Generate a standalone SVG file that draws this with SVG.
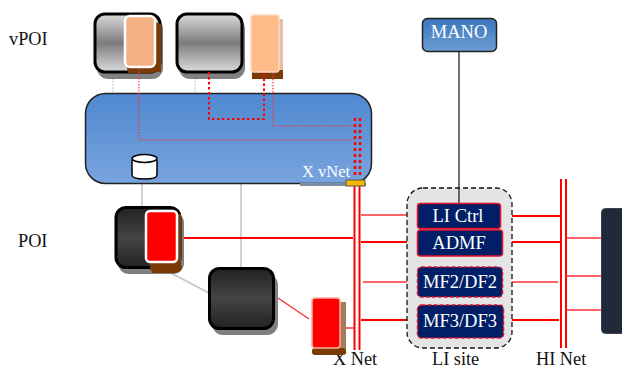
<svg xmlns="http://www.w3.org/2000/svg" width="622" height="369" viewBox="0 0 622 369">
<style>
text{font-family:"Liberation Serif","Times New Roman",serif;font-size:18.300px;fill:#111}
.w{fill:#fff;font-size:18.500px;text-anchor:middle}
.vm{stroke:#000;stroke-width:3}
.sh{fill:#808080}
.brown{fill:#7a3a05}
.grey{stroke:#c4c4c4;fill:none}
.dot{stroke:#f33;fill:none;stroke-width:1.200;stroke-dasharray:1.500 1.500}
.dot2{stroke:#f00;fill:none;stroke-width:2;stroke-dasharray:2.500 2.500}
.r{stroke:#f00;fill:none;stroke-width:2}
.rt{stroke:#f33;fill:none;stroke-width:1.500}
.li{fill:#001f66;stroke:#e0102a;stroke-width:1.500}
.lid{fill:#001f66;stroke:#e0102a;stroke-width:1.500;stroke-dasharray:4 2}
</style>
<defs>
<linearGradient id="gv" x1="0" y1="0" x2="0" y2="1"><stop offset="0" stop-color="#dcdcdc"/><stop offset="0.5" stop-color="#7c7c7c"/><stop offset="1" stop-color="#dcdcdc"/></linearGradient>
<linearGradient id="gd" x1="0" y1="0" x2="0" y2="1"><stop offset="0" stop-color="#222"/><stop offset="0.5" stop-color="#444"/><stop offset="1" stop-color="#222"/></linearGradient>
<linearGradient id="gb" x1="0" y1="0" x2="0" y2="1"><stop offset="0" stop-color="#5088d0"/><stop offset="1" stop-color="#78a4de"/></linearGradient>
<linearGradient id="gm" x1="0" y1="0" x2="0" y2="1"><stop offset="0" stop-color="#3a76bc"/><stop offset="1" stop-color="#6d9ed2"/></linearGradient>
</defs>

<g id="labels">
<text x="9" y="45">vPOI</text>
<text x="18" y="247">POI</text>
<text x="333" y="364.500">X Net</text>
<text x="432" y="364.500">LI site</text>
<text x="536" y="364.500">HI Net</text>
</g>

<g id="connectors-back">
<path class="grey" stroke-dasharray="2 1" d="M113 78V93M195 78V93"/>
<path class="grey" stroke-width="1.500" d="M142 184V207M241 184V268M165 270L209 293"/>
</g>

<g id="x-vnet">
<rect x="85.500" y="93.500" width="286" height="90" rx="20" fill="url(#gb)" stroke="#222" stroke-width="1.500"/>
<rect x="300" y="183" width="66" height="3" fill="#7d8da5"/>
<text x="302" y="177" style="fill:#fff;font-size:16.500px">X vNet</text>
</g>

<g id="vm1">
<rect class="sh" x="97" y="18" width="66" height="61" rx="11"/>
<rect class="vm" x="95" y="14" width="65" height="58" rx="10" fill="url(#gv)"/>
<path class="brown" d="M126 62H161V64Q161 73 151 73H128Z"/><path class="brown" d="M154 22L161 24V72H150Z"/>
<rect x="125" y="16" width="30" height="51" rx="5" fill="#f4b183" stroke="#fff" stroke-width="2.500"/>
</g>

<g id="vm2">
<rect class="sh" x="179" y="18" width="66" height="61" rx="11"/>
<rect class="vm" x="177" y="14" width="65" height="58" rx="10" fill="url(#gv)"/>
</g>

<g id="vm3">
<rect x="262" y="19" width="21" height="60" fill="#e2bfa8"/>
<rect class="brown" x="252" y="70" width="31" height="9"/>
<rect x="251" y="15" width="28" height="57" rx="3" fill="#ffbb88" stroke="#ffd8c0" stroke-width="1.500"/>
</g>

<g id="connectors">
<path class="dot" d="M139 69V140H355M273 73V126H353"/>
<path class="dot2" d="M209 72V119H264V73"/>
<path d="M355 118V176M360 118V176" stroke="#f00" stroke-width="2.500" stroke-dasharray="3 3" fill="none"/>
<path class="r" d="M354.500 186V350M359.500 186V350"/>
<path class="r" d="M561 179V348M566 179V348"/>
<path d="M459 52V203" stroke="#111" stroke-width="1.200"/>
<path class="rt" d="M361 215H417M363 282H417M503 282H558M566 238H601M566 276H601M566 310H601"/>
<path class="r" d="M181 238H353M361 242H417M361 320H417M500 216H561M502 242H561M503 320H559"/>
<path class="rt" d="M278 298L309 319M341 328H354"/>
</g>

<g id="yellow-port"><rect x="346" y="180" width="19" height="6" fill="#f5b800" stroke="#555" stroke-width="1"/></g>

<g id="cylinder">
<path d="M132 160V175Q132 179 144.500 179T157 175V160" fill="#fff" stroke="#000" stroke-width="1.500"/>
<ellipse cx="144.500" cy="158.500" rx="12.500" ry="4" fill="#fff" stroke="#000" stroke-width="1.500"/>
</g>

<g id="poi">
<rect class="sh" x="118" y="212" width="66" height="62" rx="11"/>
<path class="brown" d="M150 266H182Q182 273 175 273H152Z"/>
<rect class="vm" x="116" y="207.500" width="64" height="60" rx="10" fill="url(#gd)"/>
<rect class="brown" x="150" y="214" width="31" height="56"/>
<rect x="146" y="211" width="31" height="51" rx="4" fill="#f00" stroke="#fff" stroke-width="2.500"/>
</g>

<g id="dark-node">
<rect class="sh" x="212" y="274" width="66" height="61" rx="11"/>
<rect class="vm" x="209.500" y="268.500" width="64" height="60" rx="10" fill="url(#gd)"/>
</g>

<g id="red-small">
<rect x="322" y="302" width="24" height="52" fill="#a87a5c"/>
<rect class="brown" x="312" y="348" width="34" height="7" rx="3"/>
<rect x="312" y="298" width="28" height="50" rx="3" fill="#f00" stroke="#ffb0a0" stroke-width="1.500"/>
</g>

<g id="mano">
<rect x="422.500" y="18.500" width="74" height="33" rx="5" fill="url(#gm)" stroke="#222" stroke-width="1.500"/>
<text class="w" x="459" y="38">MANO</text>
</g>

<g id="li-site">
<rect x="407" y="188" width="105" height="160" rx="16" fill="#e4e4e4" stroke="#111" stroke-width="1.300" stroke-dasharray="5 3"/>
</g>
<path d="M459 188V203" stroke="#111" stroke-width="1.200"/>
<g id="li-ctrl"><rect class="li" x="417.500" y="203.500" width="83" height="25" rx="3"/><text class="w" x="458" y="222">LI Ctrl</text></g>
<g id="admf"><rect class="li" x="417.500" y="230" width="85" height="26" rx="3"/><text class="w" x="459" y="249">ADMF</text></g>
<g id="mf2"><rect class="lid" x="417.500" y="267" width="85" height="30" rx="4"/><text class="w" x="460" y="288">MF2/DF2</text></g>
<g id="mf3"><rect class="lid" x="417.500" y="305" width="86" height="33" rx="4"/><text class="w" x="460" y="327">MF3/DF3</text></g>

<g id="hi-box"><rect x="601.500" y="208.500" width="30" height="125" rx="4" fill="#20293a" stroke="#3a4252"/></g>
</svg>
